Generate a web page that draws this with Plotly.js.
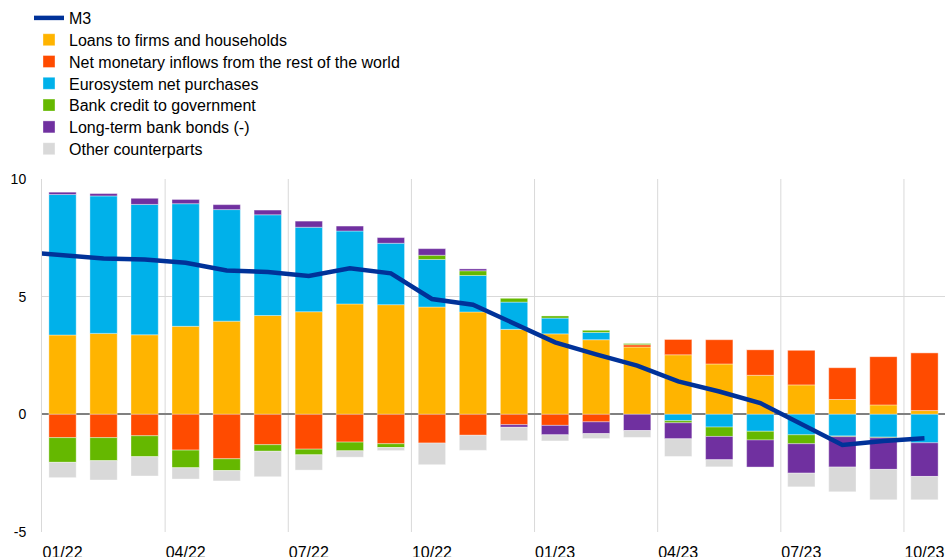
<!DOCTYPE html>
<html><head><meta charset="utf-8">
<script src="https://cdn.plot.ly/plotly-3.0.1.min.js"></script>
<style>html,body{margin:0;padding:0;background:#fff}#chart{width:945px;height:557px}</style>
</head><body><div id="chart"></div>
<script>
const months = ['01/22','02/22','03/22','04/22','05/22','06/22','07/22','08/22','09/22','10/22','11/22','12/22',
                '01/23','02/23','03/23','04/23','05/23','06/23','07/23','08/23','09/23','10/23'];
const tickLabels = ['01/22','04/22','07/22','10/22','01/23','04/23','07/23','10/23'];
const m3Months = ['12/21'].concat(months);
const m3 = [6.9, 6.76, 6.62, 6.58, 6.44, 6.11, 6.05, 5.88, 6.21, 5.99, 4.90, 4.66, 3.86, 3.06, 2.55, 2.07, 1.40, 0.97, 0.48, -0.42, -1.30, -1.13, -1.02];
const loans      = [3.37, 3.44, 3.38, 3.74, 3.96, 4.20, 4.36, 4.69, 4.66, 4.56, 4.35, 3.61, 3.42, 3.17, 2.86, 2.53, 2.14, 1.66, 1.25, 0.63, 0.40, 0.16];
const netInflows = [-0.99, -0.99, -0.91, -1.52, -1.89, -1.29, -1.48, -1.18, -1.25, -1.22, -0.89, -0.44, -0.47, -0.32, 0.10, 0.65, 1.03, 1.09, 1.47, 1.35, 2.05, 2.46];
const eurosystem = [5.97, 5.84, 5.54, 5.21, 4.74, 4.28, 3.59, 3.10, 2.61, 2.02, 1.55, 1.16, 0.67, 0.31, 0, -0.27, -0.54, -0.72, -0.87, -0.92, -0.97, -1.21];
const bankCredit = [-1.05, -0.98, -0.89, -0.75, -0.50, -0.28, -0.24, -0.37, -0.16, 0.18, 0.20, 0.16, 0.09, 0.09, 0.05, -0.09, -0.40, -0.37, -0.38, -0.03, -0.03, 0];
const bankBonds  = [0.10, 0.10, 0.26, 0.18, 0.21, 0.20, 0.26, 0.21, 0.24, 0.28, 0.08, -0.11, -0.40, -0.50, -0.69, -0.68, -0.99, -1.15, -1.25, -1.29, -1.34, -1.43];
const other      = [-0.65, -0.82, -0.82, -0.48, -0.44, -1.08, -0.65, -0.27, -0.13, -0.92, -0.64, -0.57, -0.26, -0.21, -0.29, -0.75, -0.30, 0, -0.58, -1.05, -1.29, -0.99];

const seriesNames = ['Loans to firms and households','Net monetary inflows from the rest of the world',
  'Eurosystem net purchases','Bank credit to government','Long-term bank bonds (-)','Other counterparts'];
const seriesData = [loans, netInflows, eurosystem, bankCredit, bankBonds, other];
const seriesColors = ['#FFB400','#FF4B00','#00B1EA','#65B800','#7030A0','#D9D9D9'];

const FONT = '"Liberation Sans", Arial, sans-serif';
const legendId = k => (k === 0 ? 'legend' : 'legend' + (k + 1));

const traces = seriesData.map((d, i) => ({
  type: 'bar', x: months, y: d, name: seriesNames[i],
  marker: {color: seriesColors[i], line: {color: 'rgba(255,255,255,0.6)', width: 0.6}},
  width: 0.665, legend: legendId(i + 1), hoverinfo: 'skip'
}));
traces.push({
  type: 'scatter', mode: 'lines', x: m3Months, y: m3, name: 'M3',
  line: {color: '#003299', width: 4.5}, legend: legendId(0), hoverinfo: 'skip'
});

const allCats = m3Months;
const gridShapes = tickLabels.slice(1).map(l => ({
  type: 'line', xref: 'x', yref: 'paper', x0: allCats.indexOf(l) - 0.5, x1: allCats.indexOf(l) - 0.5,
  y0: 0, y1: 1, line: {color: '#D9D9D9', width: 1}, layer: 'below'
}));

const layout = {
  width: 945, height: 557,
  margin: {l: 42, r: 0, t: 179, b: 25},
  paper_bgcolor: '#fff', plot_bgcolor: '#fff',
  font: {family: FONT, size: 14, color: '#000'},
  barmode: 'relative', bargap: 0.335,
  showlegend: true,
  xaxis: {type: 'category', categoryorder: 'array', categoryarray: allCats, range: [0.5, allCats.length - 0.5],
          tickmode: 'array', tickvals: tickLabels, ticktext: tickLabels, showgrid: false, zeroline: false,
          tickfont: {family: FONT, size: 16, color: '#000'},
          ticks: 'outside', ticklen: 6, tickcolor: 'rgba(0,0,0,0)', showline: false, fixedrange: true},
  yaxis: {range: [-5, 10], tickvals: [-5, 0, 5, 10], ticktext: ['-5','0','5','10'], showgrid: true,
          gridcolor: '#D9D9D9', gridwidth: 1, zeroline: true, zerolinecolor: '#808080', zerolinewidth: 2,
          tickfont: {family: FONT, size: 14, color: '#000'},
          showline: true, linecolor: '#D9D9D9', linewidth: 1, ticks: 'outside', ticklen: 12,
          tickcolor: 'rgba(0,0,0,0)', fixedrange: true},
  shapes: gridShapes
};
for (let k = 0; k < 7; k++) {
  const yc = 18 + 21.8 * k;
  layout[legendId(k)] = {x: -0.0144, xanchor: 'left', y: (532 - yc) / 353, yanchor: 'middle',
    font: {family: FONT, size: 16, color: '#000'}, bgcolor: 'rgba(0,0,0,0)', borderwidth: 0};
}
Plotly.newPlot('chart', traces, layout, {displayModeBar: false, staticPlot: true});
</script></body></html>
